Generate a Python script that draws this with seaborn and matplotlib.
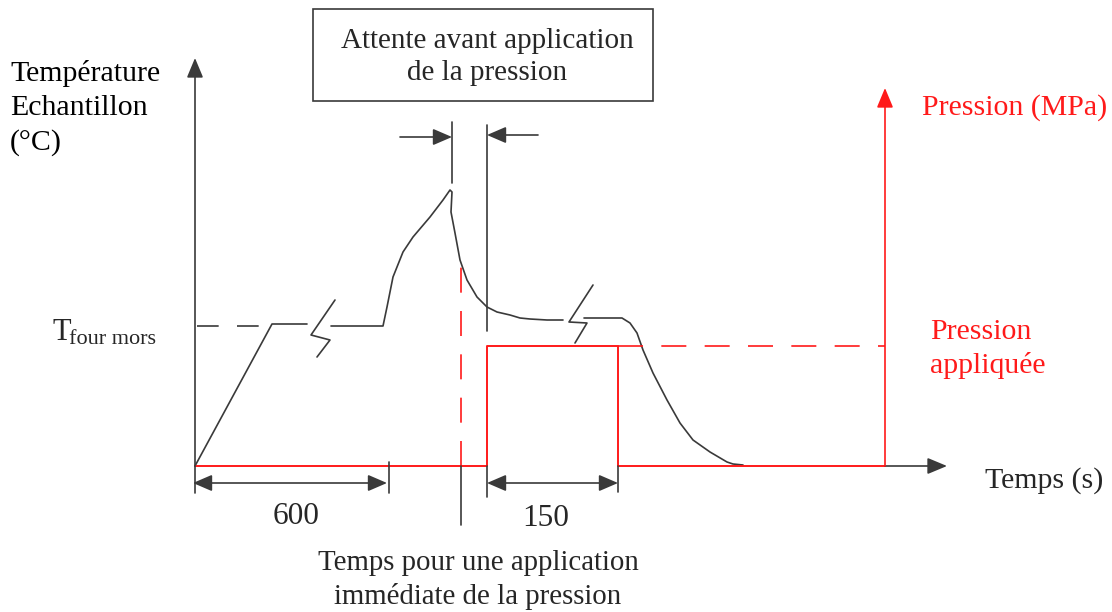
import numpy as np
import pandas as pd
import matplotlib
matplotlib.use("Agg")
import matplotlib.pyplot as plt
from matplotlib.patches import Rectangle
import seaborn as sns

sns.set_theme(style="white")
plt.rcParams['font.family'] = ['Liberation Serif', 'DejaVu Serif']

# schematic coordinates: temps (x), temperature / pression (y), origin at the axes crossing
# montée puis palier (avant la première coupure)
ramp_t = [0, 77, 112]
ramp_T = [0, 142, 142]
# après la coupure : pic de température puis refroidissement
peak_t = [136, 188, 192, 198, 208, 218, 235, 248, 255, 257, 256, 260, 265, 272, 282, 292, 302, 315, 325, 335, 352, 368]
peak_T = [140, 140, 159, 189, 214, 229, 249, 266, 276, 274, 254, 233, 206, 186, 169, 159, 154, 151, 148, 147, 146, 146]
# après la deuxième coupure : chute finale
fall_t = [389, 405, 427, 435, 442, 448, 458, 472, 485, 498, 515, 532, 538, 548]
fall_T = [148, 148, 148, 143, 133, 116, 93, 66, 43, 26, 14, 4, 2, 1]
# symboles de coupure
break1_t = [140, 116, 135, 122]
break1_T = [166, 131, 126, 109]
break2_t = [398, 374, 392, 380]
break2_T = [181, 144, 143, 123]

# pression appliquée
press_t = [0, 292, 292, 423, 423, 690]
press_P = [0, 0, 120, 120, 0, 0]
t_four_level = 140
p_level = 120
t_wait_start = 257   # fin de la montée (pic)
t_immediate = 266    # application immédiate
t_apply = 292        # début pression
t_end_press = 423    # fin pression (150 s)
t_600 = 194          # 600 s
t_axis_end = 752
T_axis_end = 408
p_axis_x = 690
p_axis_end = 378

dark = "#3a3a3a"
red = "#ff1a1a"

fig = plt.figure(figsize=(11.12, 6.12), dpi=100)
ax = fig.add_axes([0, 0, 1, 1])
ax.set_xlim(-195, 917)
ax.set_ylim(-146, 466)
ax.axis("off")

def seg(t, v, color=dark, lw=1.2, dashes=None):
    df = pd.DataFrame({"t": t, "v": v})
    line = sns.lineplot(data=df, x="t", y="v", sort=False, estimator=None,
                        color=color, lw=lw, ax=ax)
    if dashes is not None:
        line.lines[-1].set_dashes(dashes)

# temperature curve
seg(ramp_t, ramp_T)
seg(peak_t, peak_T)
seg(fall_t, fall_T)
seg(break1_t, break1_T)
seg(break2_t, break2_T)
seg([2, 77], [t_four_level, t_four_level], dashes=(13, 11))

# pressure
seg(press_t, press_P, color=red, lw=1.4)
seg([t_end_press, p_axis_x], [p_level, p_level], color=red, dashes=(15, 11))
seg([t_immediate, t_immediate], [0, 200], color=red, dashes=(15, 11))

# axes with arrows
big = dict(arrowstyle="-|>,head_length=0.6,head_width=0.25", mutation_scale=20,
           shrinkA=0, shrinkB=0, lw=1.2)
ax.annotate("", xy=(0, T_axis_end), xytext=(0, 0), arrowprops=dict(color=dark, **big))
ax.annotate("", xy=(t_axis_end, 0), xytext=(p_axis_x, 0), arrowprops=dict(color=dark, **big))
ax.annotate("", xy=(p_axis_x, p_axis_end), xytext=(p_axis_x, 0), arrowprops=dict(color=red, **big))

# vertical markers
seg([t_wait_start, t_wait_start], [283, 344])
seg([t_apply, t_apply], [135, 341])
seg([t_immediate, t_immediate], [-59, 0])
seg([t_apply, t_apply], [-31, 0])
seg([t_600, t_600], [4, -27])
seg([0, 0], [0, -27])
seg([t_end_press, t_end_press], [0, -26])

# dimension arrows
small = dict(arrowstyle="<|-|>,head_length=0.65,head_width=0.28", mutation_scale=18,
             shrinkA=0, shrinkB=0, lw=1.2, color=dark)
ax.annotate("", xy=(-2, -17), xytext=(t_600 - 2, -17), arrowprops=small)
ax.annotate("", xy=(t_apply, -17), xytext=(t_end_press, -17), arrowprops=small)
one = dict(arrowstyle="-|>,head_length=0.65,head_width=0.28", mutation_scale=18,
           shrinkA=0, shrinkB=0, lw=1.2, color=dark)
ax.annotate("", xy=(t_wait_start, 329), xytext=(205, 329), arrowprops=one)
ax.annotate("", xy=(t_apply, 331), xytext=(343, 331), arrowprops=one)

fs = 21.5
ax.text(-185, 358, "Température\nEchantillon\n(°C)", fontsize=fs, ha="left", va="center",
        linespacing=1.38, color="black")
ax.text(-143, 133, "T", fontsize=22, ha="left", va="center")
ax.text(-126, 127, "four mors", fontsize=16, ha="left", va="center")

ax.add_patch(Rectangle((118, 365), 340, 92, fill=False, ec=dark, lw=1.2))
ax.text(292, 409, "Attente avant application\nde la pression", fontsize=21, ha="center",
        va="center", linespacing=1.35)
ax.text(727, 358, "Pression (MPa)", fontsize=fs, ha="left", va="center", color=red)
ax.text(735, 117, "Pression\nappliquée", fontsize=fs, ha="left", va="center", color=red,
        linespacing=1.3)
ax.text(790, -15, "Temps (s)", fontsize=fs, ha="left", va="center")
ax.text(101, -50, "600", fontsize=22.5, ha="center", va="center")
ax.text(351, -52, "150", fontsize=22.5, ha="center", va="center")
ax.text(283, -114, "Temps pour une application\nimmédiate de la pression", fontsize=20.8,
        ha="center", va="center", linespacing=1.35)

fig.savefig("out.png", dpi=100)
